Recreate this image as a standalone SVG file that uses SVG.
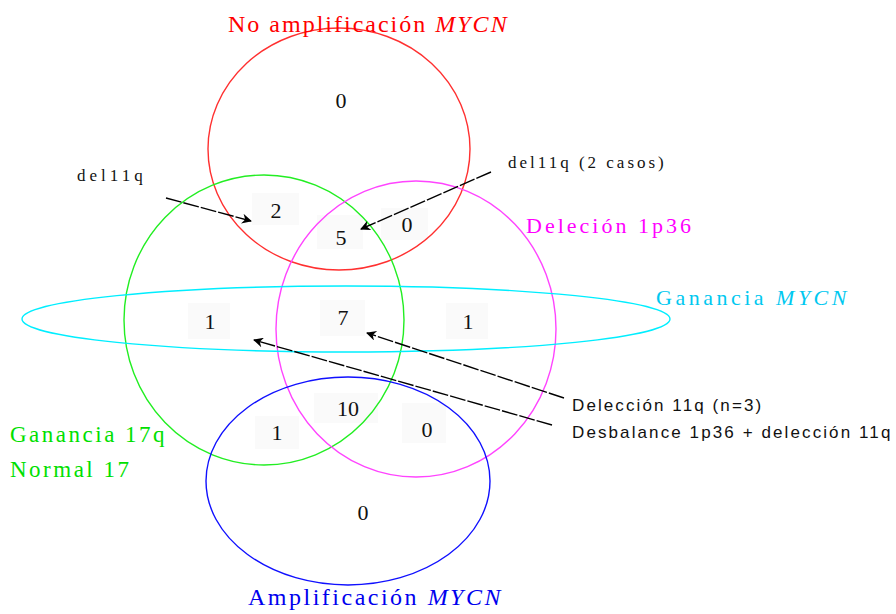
<svg xmlns="http://www.w3.org/2000/svg" width="896" height="614" viewBox="0 0 896 614">
  <defs>
    <marker id="arr" viewBox="0 0 10 10" refX="9" refY="5" markerWidth="12" markerHeight="10" markerUnits="userSpaceOnUse" orient="auto">
      <path d="M0,0 L10,5 L0,10 L3,5 Z" fill="#000"/>
    </marker>
    <style>
      .set { fill: none; stroke-width: 1.4; }
      .lbl { font-family: "Liberation Serif", "Times New Roman", serif; }
      .num { font-family: "Liberation Serif", "Times New Roman", serif; font-size: 22px; fill: #111; text-anchor: middle; }
      .cell { fill: #fafafa; }
      .ptr { stroke: #000; stroke-width: 1.4; fill: none; stroke-dasharray: 16 2; marker-end: url(#arr); }
      .note { font-family: "Liberation Sans", Arial, sans-serif; font-size: 17px; fill: #111; letter-spacing: 2.1px; }
    </style>
  </defs>
  <rect width="896" height="614" fill="#fff"/>

  <!-- count cells -->
  <g id="cells">
    <rect class="cell" x="252" y="193" width="47" height="32"/>
    <rect class="cell" x="317" y="215" width="46" height="34"/>
    <rect class="cell" x="381" y="208" width="47" height="32"/>
    <rect class="cell" x="188" y="303" width="42" height="36"/>
    <rect class="cell" x="320" y="300" width="45" height="36"/>
    <rect class="cell" x="446" y="303" width="42" height="36"/>
    <rect class="cell" x="255" y="416" width="44" height="33"/>
    <rect class="cell" x="314" y="393" width="64" height="30"/>
    <rect class="cell" x="402" y="403" width="44" height="40"/>
  </g>

  <!-- sets -->
  <g id="set-no-amplificacion">
    <ellipse class="set" cx="339" cy="149" rx="131" ry="121" stroke="#ff3030"/>
    <text class="lbl" x="228" y="32" font-size="24" letter-spacing="2" fill="#ff0000">No amplificación <tspan font-style="italic">MYCN</tspan></text>
  </g>
  <g id="set-ganancia-17q">
    <ellipse class="set" cx="264" cy="320" rx="140" ry="145" stroke="#22ee22"/>
    <text class="lbl" x="10" y="442" font-size="23" letter-spacing="2.5" fill="#00e000">Ganancia 17q</text>
    <text class="lbl" x="10" y="477" font-size="23" letter-spacing="2.5" fill="#00e000">Normal 17</text>
  </g>
  <g id="set-delecion-1p36">
    <ellipse class="set" cx="416" cy="329" rx="140" ry="148" stroke="#ff44ff"/>
    <text class="lbl" x="526" y="233" font-size="22" letter-spacing="3" fill="#ff00ff">Deleción 1p36</text>
  </g>
  <g id="set-ganancia-mycn">
    <ellipse class="set" cx="346" cy="319" rx="324" ry="33" stroke="#00eeff"/>
    <text class="lbl" x="656" y="305" font-size="22" letter-spacing="3.5" fill="#00c8f0">Ganancia <tspan font-style="italic">MYCN</tspan></text>
  </g>
  <g id="set-amplificacion">
    <ellipse class="set" cx="348" cy="481" rx="142" ry="104" stroke="#1010ff"/>
    <text class="lbl" x="248" y="605" font-size="24" letter-spacing="2.5" fill="#0000ee">Amplificación <tspan font-style="italic">MYCN</tspan></text>
  </g>

  <!-- counts -->
  <g id="counts">
    <text class="num" x="341" y="108">0</text>
    <text class="num" x="276" y="218">2</text>
    <text class="num" x="341" y="245">5</text>
    <text class="num" x="407" y="232">0</text>
    <text class="num" x="210" y="329">1</text>
    <text class="num" x="343" y="325">7</text>
    <text class="num" x="468" y="329">1</text>
    <text class="num" x="277" y="440">1</text>
    <text class="num" x="348" y="416">10</text>
    <text class="num" x="427" y="437">0</text>
    <text class="num" x="363" y="520">0</text>
  </g>

  <!-- annotation labels -->
  <g id="notes">
    <text class="lbl" x="77" y="181" font-size="17" letter-spacing="4" fill="#111">del11q</text>
    <text class="lbl" x="508" y="168" font-size="17" letter-spacing="3" fill="#111">del11q (2 casos)</text>
    <text class="note" x="572" y="411">Delección 11q (n=3)</text>
    <text class="note" x="572" y="438">Desbalance 1p36 + delección 11q</text>
  </g>

  <!-- connectors -->
  <g id="connectors">
    <path class="ptr" d="M166,198 L251,221"/>
    <path class="ptr" d="M491,172 L361,229"/>
    <path class="ptr" d="M564,398 L367,333"/>
    <path class="ptr" d="M552,425 L254,340"/>
  </g>
</svg>
